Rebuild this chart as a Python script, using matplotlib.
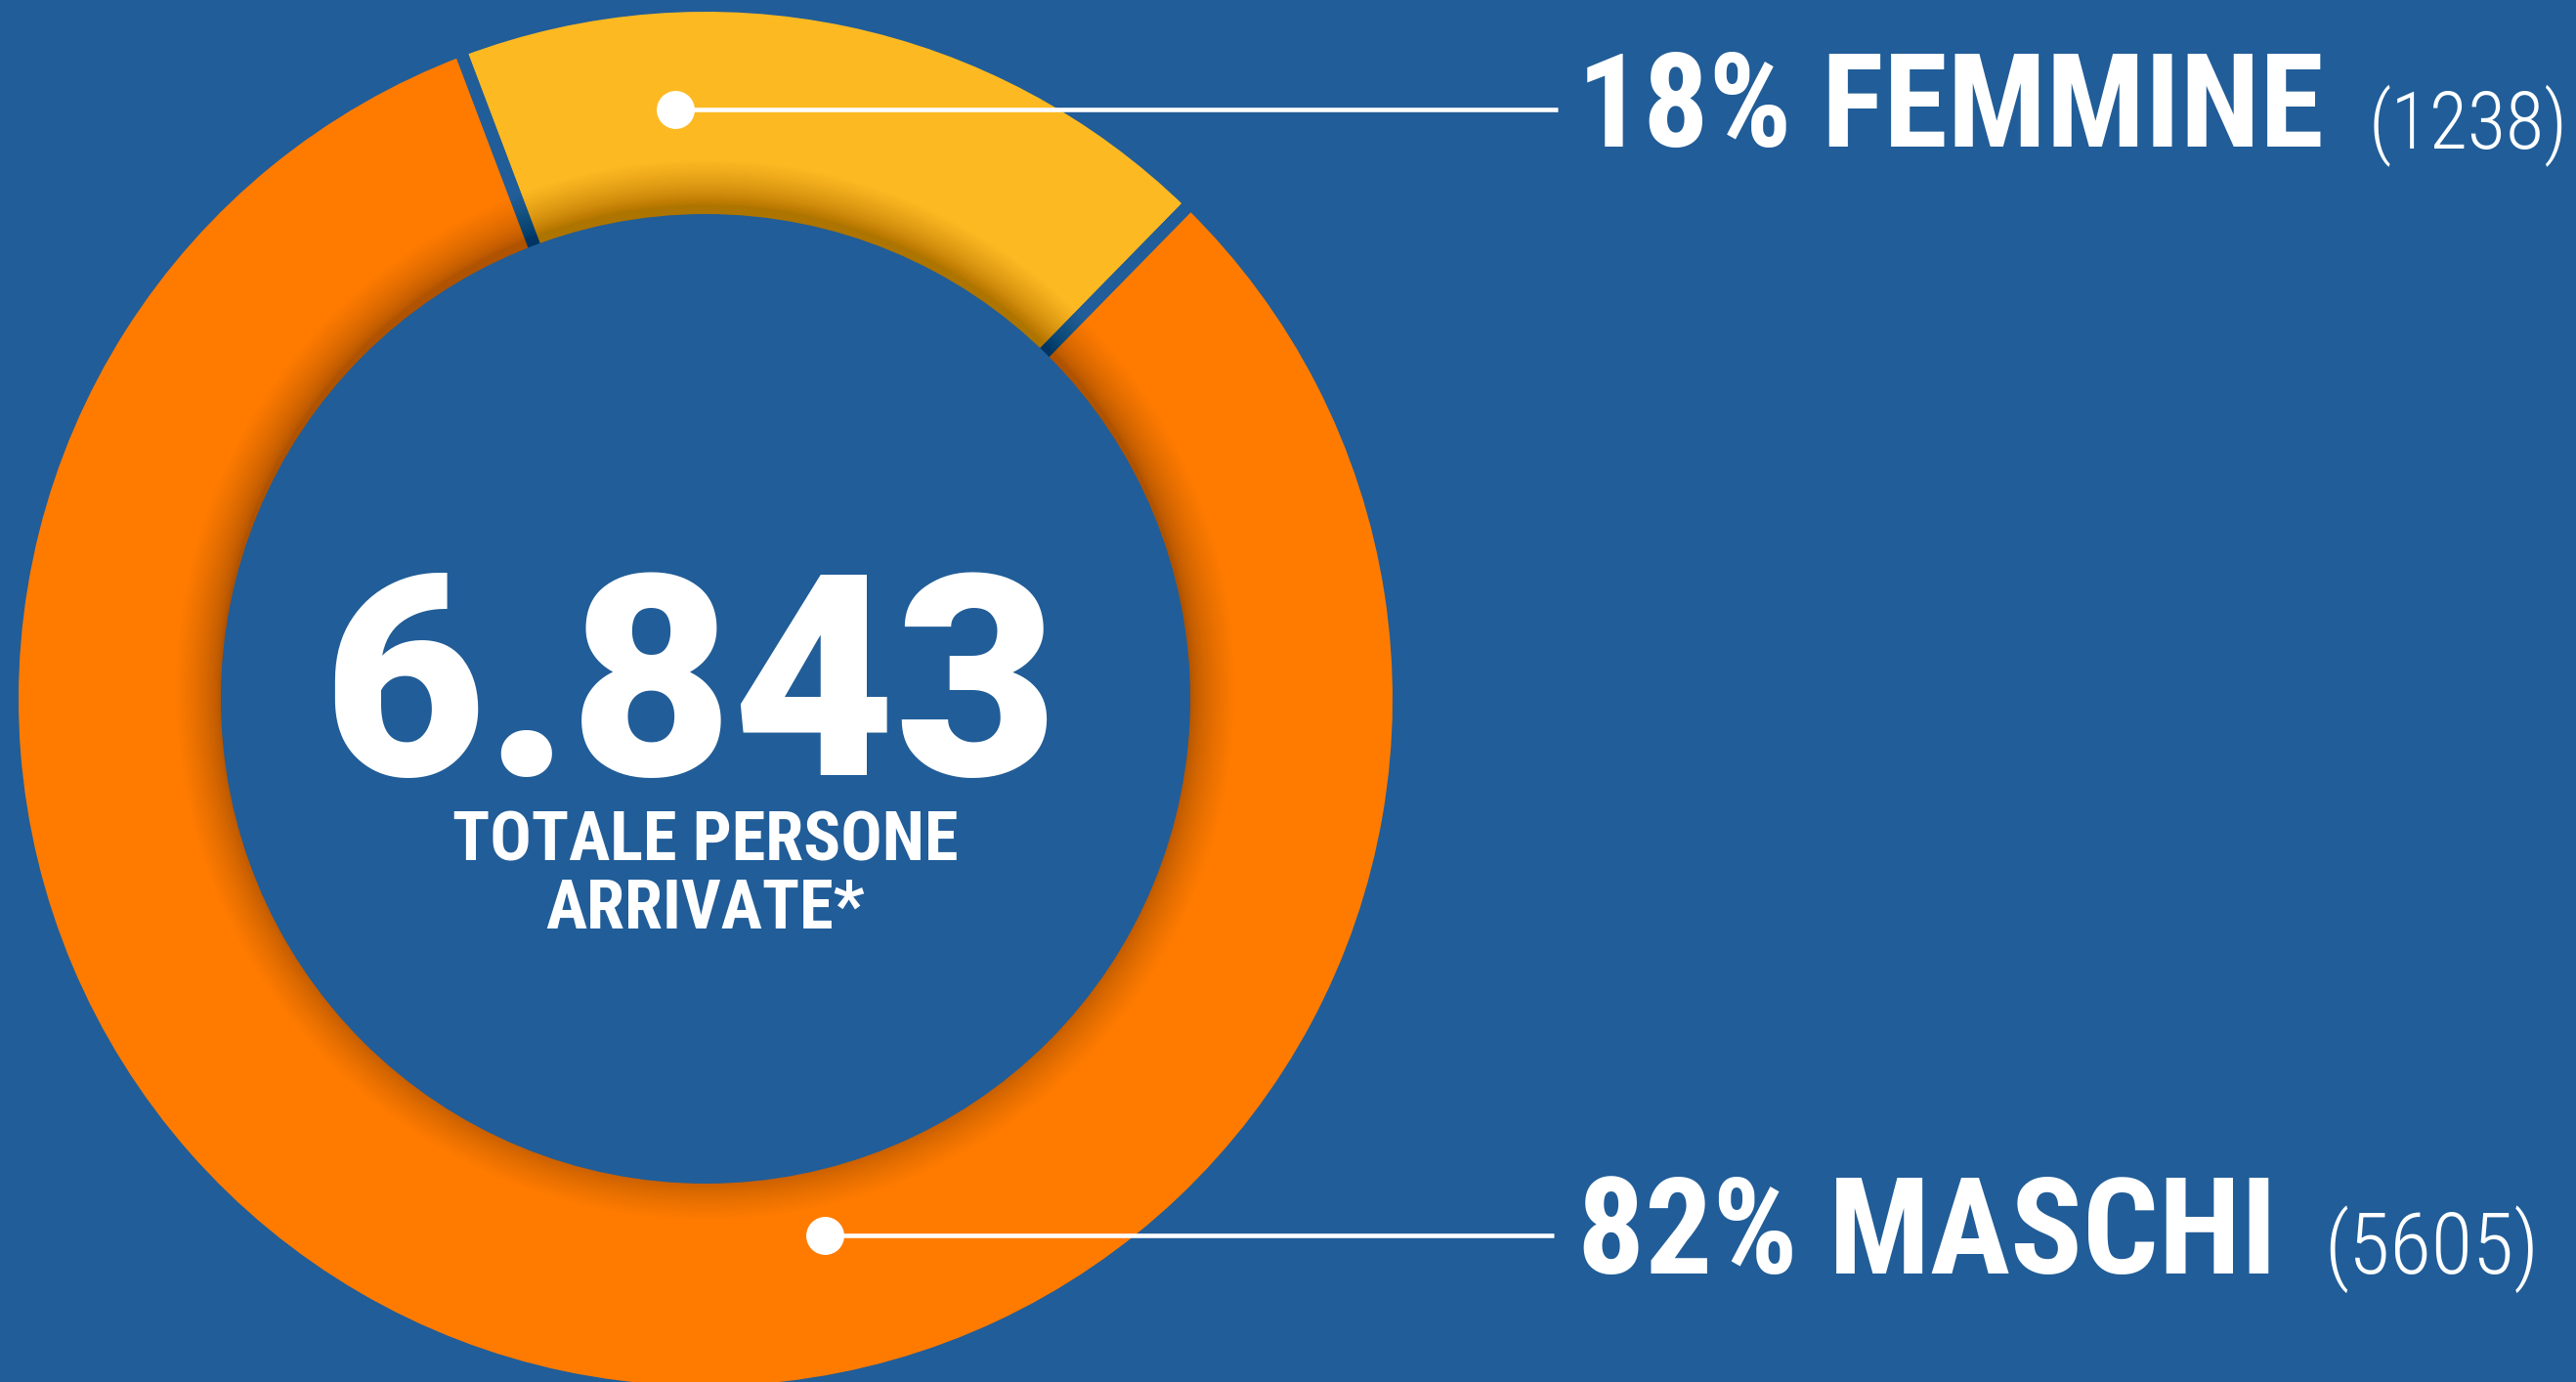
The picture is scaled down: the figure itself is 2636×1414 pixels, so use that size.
import matplotlib
matplotlib.use("Agg")
import matplotlib.pyplot as plt
from matplotlib import font_manager
from matplotlib.patches import Circle

# ---------------- data ----------------
categories = ["FEMMINE", "MASCHI"]
counts = [1238, 5605]
percent_labels = ["18%", "82%"]
total_label = "6.843"
subtitle = "TOTALE PERSONE\nARRIVATE*"

# ---------------- style ----------------
W, H = 2636, 1414
BG = "#215D98"
ORANGE = "#FF7B00"
YELLOW = "#FDB922"
WHITE = "#FFFFFF"

avail = {f.name for f in font_manager.fontManager.ttflist}


def pick(*names):
    for n in names:
        if n in avail:
            return n
    return "DejaVu Sans"


COND = pick("Liberation Sans Narrow", "Roboto Condensed", "Noto Sans Condensed",
            "Open Sans Condensed", "Liberation Sans")
HEAVY = pick("Roboto", "Inter", "Lato", "DejaVu Sans")
LIGHT = pick("Roboto Condensed", "Liberation Sans Narrow", "Roboto", "Lato")

fig = plt.figure(figsize=(W / 100, H / 100), dpi=100, facecolor=BG)
ax = fig.add_axes([0, 0, 1, 1])
ax.set_facecolor(BG)

cx, cy = 722, H - 715
R, r = 703, 496
gap = 13  # px

wedges, _ = ax.pie(
    counts, colors=[YELLOW, ORANGE], startangle=45.6, counterclock=True,
    center=(cx, cy), radius=R + gap / 2, frame=True,
    wedgeprops=dict(edgecolor=BG, linewidth=gap * 0.72, width=R - r + gap + 10),
)

# inner shadow (drop shadow of the central disc, cast slightly upwards)
N = 40
for k in range(N):
    d = 46 * ((k + 1) / N) ** 1.6
    ax.add_patch(Circle((cx, cy + 9), r + d, facecolor="black", alpha=0.0085,
                        edgecolor="none", zorder=3))
ax.add_patch(Circle((cx, cy), r, facecolor=BG, edgecolor="none", zorder=4))

ax.set_xlim(0, W)
ax.set_ylim(0, H)
ax.set_aspect("auto")
ax.axis("off")

# leader lines with dots
dot_pts = [(691, H - 112), (844, H - 1264)]
line_end = [1594, 1590]
for (dx, dy), xe in zip(dot_pts, line_end):
    ax.plot([dx, xe], [dy, dy], color=WHITE, lw=3.3, solid_capstyle="butt", zorder=5)
    ax.plot([dx], [dy], "o", ms=27, color=WHITE, zorder=6)

renderer = fig.canvas.get_renderer()


def fit(t, target_w):
    bb = t.get_window_extent(renderer)
    t.set_fontsize(t.get_fontsize() * target_w / bb.width)


# labels
lab_pos = [(1614, H - 150, 764, 2424, H - 151, 204), (1614, H - 1303, 716, 2378, H - 1303, 220)]
for cat, pct, n, (x1, y1, w1, x2, y2, w2) in zip(categories, percent_labels, counts, lab_pos):
    t = ax.text(x1, y1, f"{pct} {cat}", color=WHITE, fontsize=88, family=COND,
                fontweight="bold", ha="left", va="baseline", zorder=7)
    fit(t, w1)
    t2 = ax.text(x2, y2, f"({n})", color=WHITE, fontsize=60, family=LIGHT,
                 fontweight="light", ha="left", va="baseline", zorder=7)
    fit(t2, w2)

# centre
t = ax.text(706, H - 793, total_label, color=WHITE, fontsize=200, family=HEAVY,
            fontweight="black", ha="center", va="baseline", zorder=7)
fit(t, 753)
ts = ax.text(722, H - 950, subtitle, color=WHITE, fontsize=44, family=COND,
             fontweight="bold", ha="center", va="baseline", multialignment="center",
             zorder=7)
fit(ts, 518)
em_px = ts.get_fontsize() * 100 / 72
ts.set_linespacing(68 / (0.917 * em_px))

fig.savefig("out.png", dpi=100, facecolor=BG)
